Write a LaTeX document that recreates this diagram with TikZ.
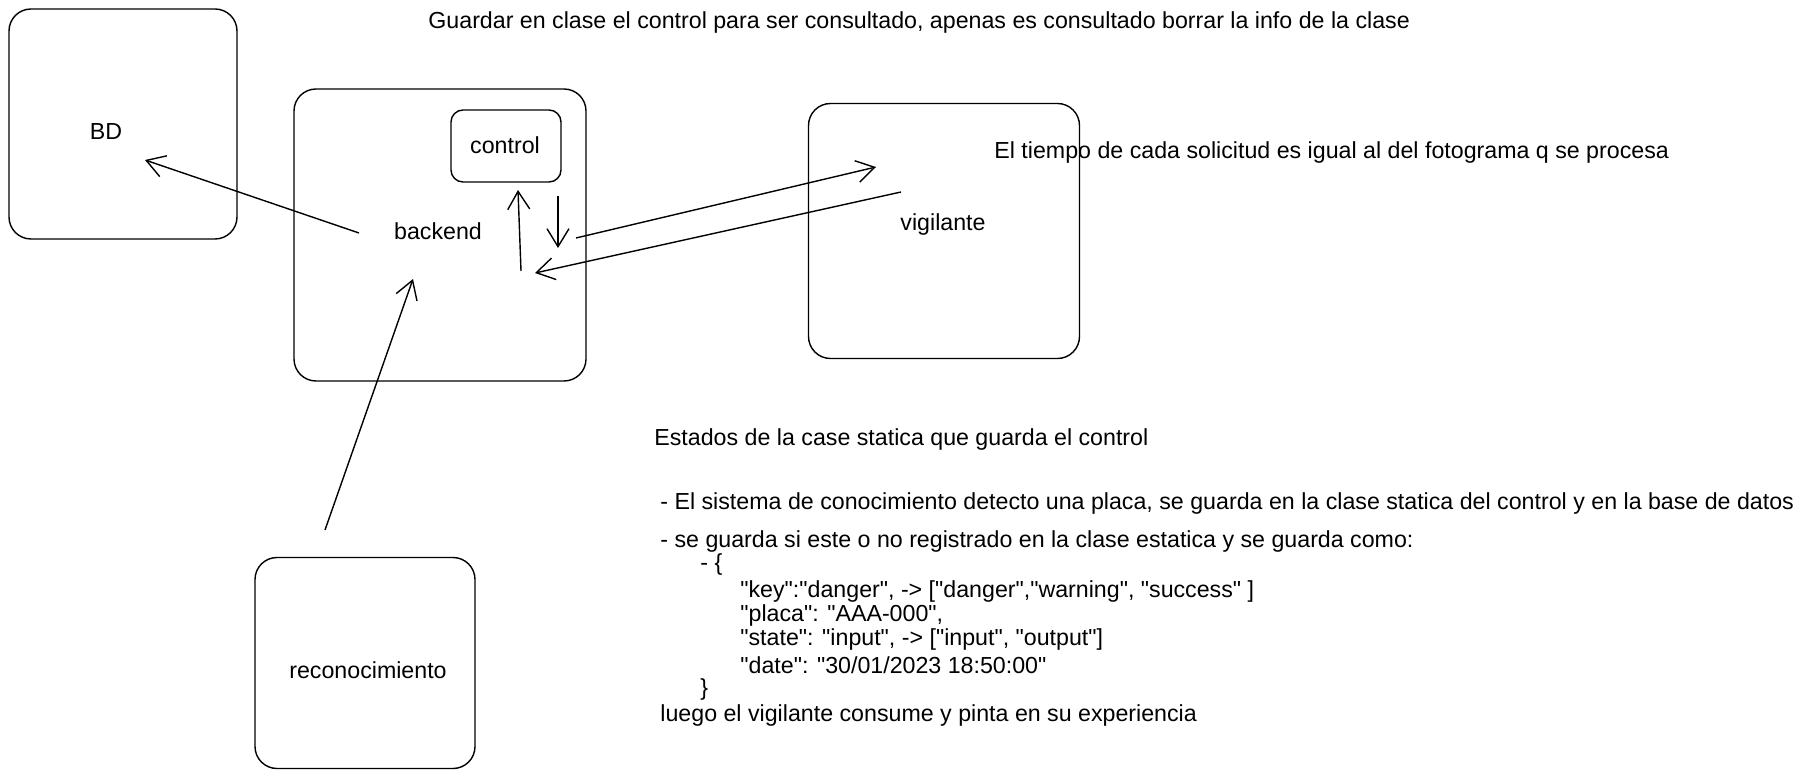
\documentclass[tikz,border=0pt]{standalone}
\usepackage{fontspec}
\setmainfont{Liberation Sans}[Ligatures=TeXOff]
\usetikzlibrary{arrows.meta}
\tikzstyle{caja} = [draw=black, line width=0.7pt,
                    rectangle, rounded corners=11pt,
                    inner sep=0pt]
\tikzstyle{cajita} = [caja, rounded corners=6pt]
\tikzstyle{texto} = [font=\fontsize{11.6}{14}\selectfont, inner sep=0pt]
\tikzstyle{nota} = [texto, anchor=west]
\tikzstyle{flecha} = [line width=0.7pt, -{Straight Barb[length=9pt,width=11pt]}]

\begin{document}
\begin{tikzpicture}[x=0.5pt, y=-0.5pt]
  \useasboundingbox (0,0) rectangle (1809,780);
  % cajas
  \node [caja, minimum width=114pt, minimum height=115pt] (bd) at (123,124) {};
  \node [caja, minimum width=146pt, minimum height=146pt] (backend) at (440,235) {};
  \node [cajita, minimum width=55pt, minimum height=36pt] (control) at (506,146) {};
  \node [caja, minimum width=135.5pt, minimum height=127.5pt] (vigilante) at (944,231) {};
  \node [caja, minimum width=110pt, minimum height=105.5pt] (reco) at (365,663) {};
  % textos de las cajas
  \node [texto] (bdtxt) at (106,132) {BD};
  \node [texto] (backendtxt) at (438,231) {backend};
  \node [texto] (controltxt) at (505,145) {control};
  \node [texto] (vigilantetxt) at (943,225) {vigilante};
  \node [texto] (recotxt) at (368,670) {reconocimiento};
  % flechas
  \coordinate (b1) at (359,233);  \coordinate (d1) at (145,160);
  \coordinate (r1) at (325,530);  \coordinate (b2) at (413,279);
  \coordinate (c1) at (521,271);  \coordinate (c2) at (518,190);
  \coordinate (c3) at (558,196);  \coordinate (c4) at (558,248);
  \coordinate (b3) at (576,238);  \coordinate (v1) at (876,167);
  \coordinate (v2) at (901,192);  \coordinate (b4) at (535,273);
  \draw [flecha] (b1) -- (d1);
  \draw [flecha] (r1) -- (b2);
  \draw [flecha] (c1) -- (c2);
  \draw [flecha] (c3) -- (c4);
  \draw [flecha] (b3) -- (v1);
  \draw [flecha] (v2) -- (b4);
  % notas
  \node [nota] (guardar) at (428,23) {Guardar en clase el control para ser consultado, apenas es consultado borrar la info de la clase};
  \node [nota] (tiempo) at (994,153) {El tiempo de cada solicitud es igual al del fotograma q se procesa};
  \node [nota] (estados) at (654,440) {Estados de la case statica que guarda el control};
  \node [nota] (linea1) at (660,503) {- El sistema de conocimiento detecto una placa, se guarda en la clase statica del control y en la base de datos};
  \node [nota] (linea2) at (660,541) {- se guarda si este o no registrado en la clase estatica y se guarda como:};
  \node [nota] (abre) at (700,565) {- \{};
  \node [nota] (clave) at (740,591) {"key":"danger", -> ["danger","warning", "success" ]};
  \node [nota] (placa) at (740,615) {"placa": "AAA-000",};
  \node [nota] (estado) at (740,639) {"state": "input", -> ["input", "output"]};
  \node [nota] (fecha) at (740,665) {"date": "30/01/2023 18:50:00"};
  \node [nota] (cierra) at (700,689) {\}};
  \node [nota] (luego) at (660,715) {luego el vigilante consume y pinta en su experiencia};
\end{tikzpicture}
\end{document}
